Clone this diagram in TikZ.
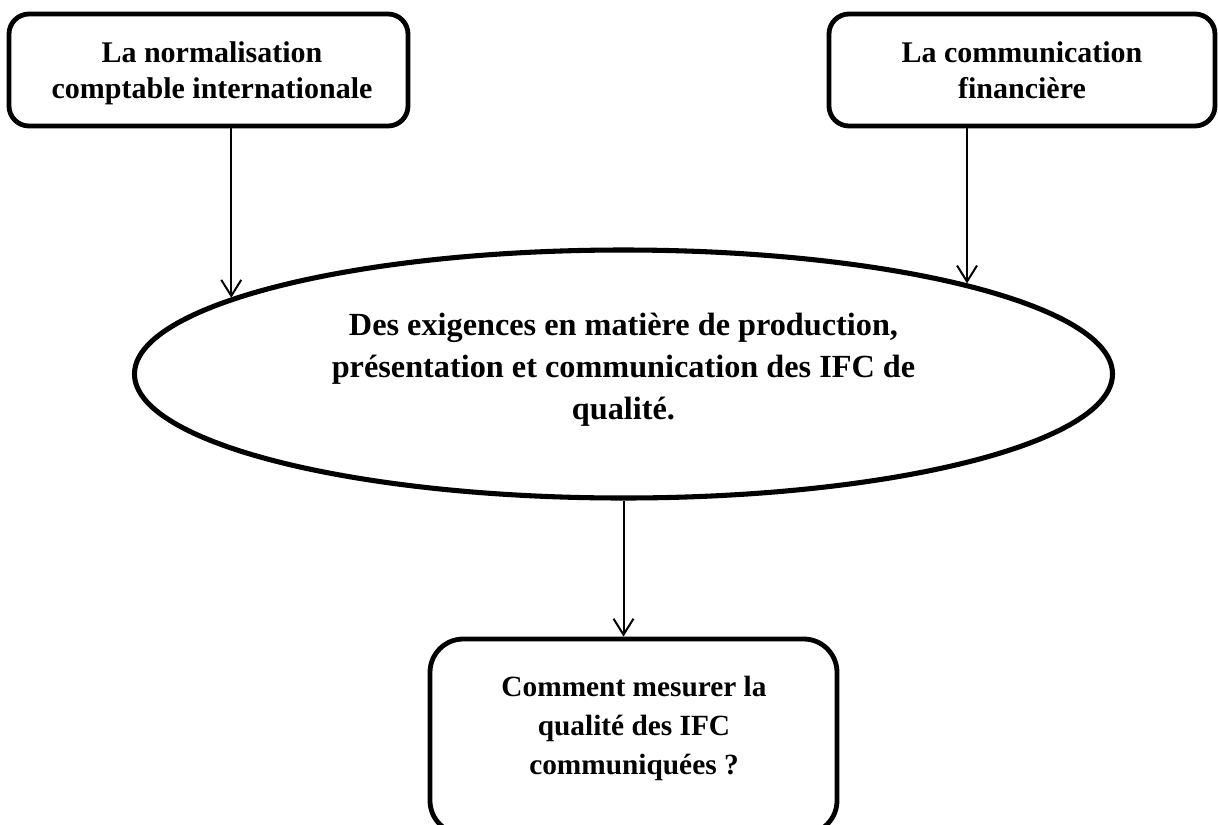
\documentclass[tikz,border=0pt]{standalone}
\usepackage{fontspec}
\setmainfont{Liberation Serif}
\usetikzlibrary{arrows.meta,shapes.geometric}
\begin{document}
\begin{tikzpicture}[x=0.75pt,y=-0.75pt,
  box/.style={draw,line width=3.6pt,rounded corners=15pt,inner sep=0pt},
  oval/.style={draw,ellipse,line width=3.8pt,inner sep=0pt},
  txt/.style={align=center,inner sep=0pt},
  arr/.style={line width=1.5pt,-{Straight Barb[length=12pt,width=15pt]}}]
\useasboundingbox (0,0) rectangle (1218,825);

% the two sources at the top
\node[box,minimum width=299.25pt,minimum height=84pt] (b1) at (208.5,70) {};
\node[txt,font=\fontsize{22.5}{26.6}\selectfont\bfseries] (t1) at (212,73.5)
  {\strut La normalisation\\\strut comptable internationale};
\node[box,minimum width=289.5pt,minimum height=84pt] (b2) at (1022,70) {};
\node[txt,font=\fontsize{22.5}{26.6}\selectfont\bfseries] (t2) at (1022,73.5)
  {\strut La communication\\\strut financière};

% central requirement
\node[oval,minimum width=733.5pt,minimum height=186pt] (ell) at (623.5,374) {};
\node[txt,font=\fontsize{24.2}{31.5}\selectfont\bfseries] (te) at (623.5,369.5)
  {\strut Des exigences en matière de production,\\\strut présentation et communication des IFC de\\\strut qualité.};

% resulting question
\node[box,rounded corners=25pt,minimum width=305.25pt,minimum height=146.25pt] (b3) at (633.5,736.5) {};
\node[txt,font=\fontsize{22}{29.25}\selectfont\bfseries] (t3) at (634,727.5)
  {\strut Comment mesurer la\\\strut qualité des IFC\\\strut communiquées ?};

% connectors
\coordinate (e2) at ([xshift=2.25pt,yshift=-0.5pt]ell.15);
\draw[arr] (ell.169 |- b1.south) -- (ell.169);
\draw[arr] (e2 |- b2.south) -- (e2);
\draw[arr] (ell.south) -- (ell.south |- b3.north);
\end{tikzpicture}
\end{document}
